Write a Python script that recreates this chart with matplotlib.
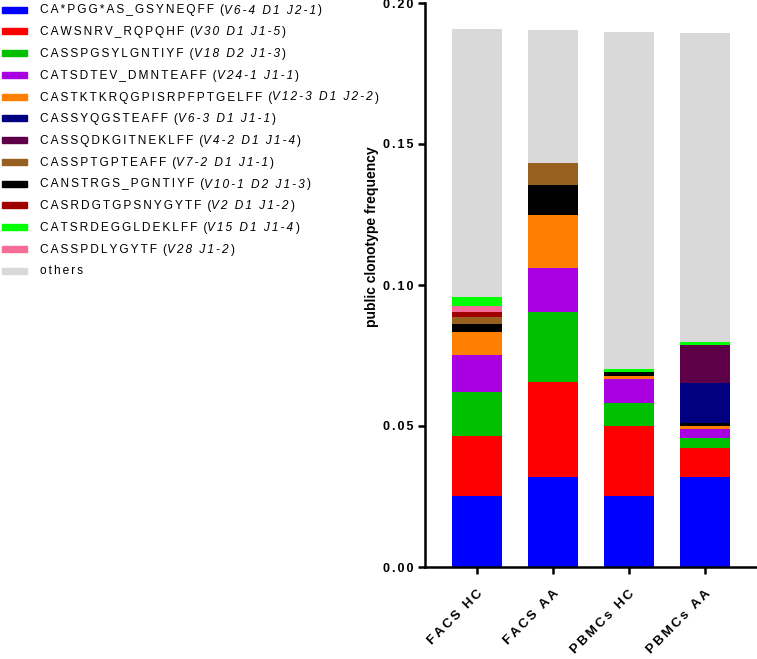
import matplotlib

matplotlib.use("Agg")
import matplotlib.pyplot as plt
import numpy as np
from matplotlib.patches import Rectangle

plt.rcParams["font.family"] = ["Liberation Sans", "DejaVu Sans"]

HAIR = "\u200a"

# Samples (x categories)
SAMPLES = ["FACS HC", "FACS AA", "PBMCs HC", "PBMCs AA"]

# Legend entries (top -> bottom), clonotype + gene usage
CLONOTYPES = [
    "CA*PGG*AS_GSYNEQFF", "CAWSNRV_RQPQHF", "CASSPGSYLGNTIYF",
    "CATSDTEV_DMNTEAFF", "CASTKTKRQGPISRPFPTGELFF", "CASSYQGSTEAFF",
    "CASSQDKGITNEKLFF", "CASSPTGPTEAFF", "CANSTRGS_PGNTIYF",
    "CASRDGTGPSNYGYTF", "CATSRDEGGLDEKLFF", "CASSPDLYGYTF", "others",
]
GENES = [
    "V6-4 D1 J2-1", "V30 D1 J1-5", "V18 D2 J1-3", "V24-1 J1-1",
    "V12-3 D1 J2-2", "V6-3 D1 J1-1", "V4-2 D1 J1-4", "V7-2 D1 J1-1",
    "V10-1 D2 J1-3", "V2 D1 J1-2", "V15 D1 J1-4", "V28 J1-2", "",
]
COLORS = [
    "#0000FF", "#FF0000", "#00C000", "#A800E0", "#FF8000", "#000080",
    "#5E0048", "#98601E", "#000000", "#A00000", "#00FF00", "#F86C98",
    "#D9D9D9",
]

# Frequencies per clonotype for [FACS HC, FACS AA, PBMCs HC, PBMCs AA]
FREQ = {
    "CA*PGG*AS_GSYNEQFF":      [0.0252, 0.0319, 0.0252, 0.0319],
    "CAWSNRV_RQPQHF":          [0.0213, 0.0337, 0.0248, 0.0103],
    "CASSPGSYLGNTIYF":         [0.0155, 0.0248, 0.0082, 0.0035],
    "CATSDTEV_DMNTEAFF":       [0.0132, 0.0156, 0.0085, 0.0032],
    "CASTKTKRQGPISRPFPTGELFF": [0.0081, 0.0188, 0.0010, 0.0011],
    "CASSYQGSTEAFF":           [0.0, 0.0, 0.0, 0.0141],
    "CASSQDKGITNEKLFF":        [0.0, 0.0, 0.0, 0.0135],
    "CASSPTGPTEAFF":           [0.0028, 0.0078, 0.0, 0.0],
    "CANSTRGS_PGNTIYF":        [0.0027, 0.0107, 0.0016, 0.0011],
    "CASRDGTGPSNYGYTF":        [0.0015, 0.0, 0.0, 0.0],
    "CATSRDEGGLDEKLFF":        [0.0031, 0.0, 0.0009, 0.0011],
    "CASSPDLYGYTF":            [0.0023, 0.0, 0.0, 0.0],
    "others":                  [0.0951, 0.0471, 0.1195, 0.1096],
}

# Stacking order bottom -> top (as drawn in the figure)
STACK_ORDER = [
    "CA*PGG*AS_GSYNEQFF", "CAWSNRV_RQPQHF", "CASSPGSYLGNTIYF",
    "CATSDTEV_DMNTEAFF", "CASTKTKRQGPISRPFPTGELFF", "CANSTRGS_PGNTIYF",
    "CASSPTGPTEAFF", "CASRDGTGPSNYGYTF", "CASSPDLYGYTF", "CASSYQGSTEAFF",
    "CASSQDKGITNEKLFF", "CATSRDEGGLDEKLFF", "others",
]

Y_TICKS = [0.00, 0.05, 0.10, 0.15, 0.20]


def spaced(s, n=2):
    return (HAIR * n).join(s)


W, H = 757, 659
fig = plt.figure(figsize=(W / 100, H / 100), dpi=100)
ax = fig.add_axes([425 / W, 1 - 567 / H, (W - 425) / W, (567 - 3) / H])

color_of = dict(zip(CLONOTYPES, COLORS))
x = np.arange(len(SAMPLES))
bottom = np.zeros(len(SAMPLES))
for name in STACK_ORDER:
    vals = np.array(FREQ[name])
    ax.bar(x, vals, bottom=bottom, width=0.66, color=color_of[name],
           edgecolor="none", linewidth=0)
    bottom += vals

ax.set_xlim(-0.686, len(SAMPLES) - 1 + 0.69)
ax.set_ylim(0, 0.20)
ax.set_yticks(Y_TICKS)
ax.set_yticklabels([spaced(f"{t:.2f}", 2) for t in Y_TICKS],
                   fontsize=9, fontweight="bold")
ax.set_xticks(x)
ax.set_xticklabels([spaced(s, 2) for s in SAMPLES], rotation=45, ha="right",
                   rotation_mode="anchor", fontsize=9.5, fontweight="bold")
for side in ("top", "right"):
    ax.spines[side].set_visible(False)
for side in ("left", "bottom"):
    ax.spines[side].set_linewidth(1.8)
ax.tick_params(axis="both", width=1.8, length=5, direction="out")
ax.tick_params(axis="x", pad=10)

fig.text(372 / W, 1 - 237 / H, "public clonotype frequency",
         rotation=90, ha="center", va="center", fontsize=10,
         fontweight="bold")

# Manual legend on the left side of the figure
for i, (name, gene, col) in enumerate(zip(CLONOTYPES, GENES, COLORS)):
    yc = 9.5 + i * 21.75
    fig.patches.append(Rectangle((2 / W, 1 - (yc + 3) / H), 25 / W, 6 / H,
                                 transform=fig.transFigure, color=col))
    label = spaced(name, 2) + (HAIR * 6 + "(" if gene else "")
    t = fig.text(40 / W, 1 - (yc + 1) / H, label, ha="left", va="center",
                 fontsize=8.6)
    if gene:
        it = ax.annotate(spaced(gene, 2), xy=(1, 0.5), xycoords=t,
                         ha="left", va="center", fontsize=8.6,
                         style="italic", annotation_clip=False)
        ax.annotate(HAIR * 2 + ")", xy=(1, 0.5), xycoords=it, ha="left",
                    va="center", fontsize=8.6, annotation_clip=False)

fig.savefig("out.png", dpi=100)
